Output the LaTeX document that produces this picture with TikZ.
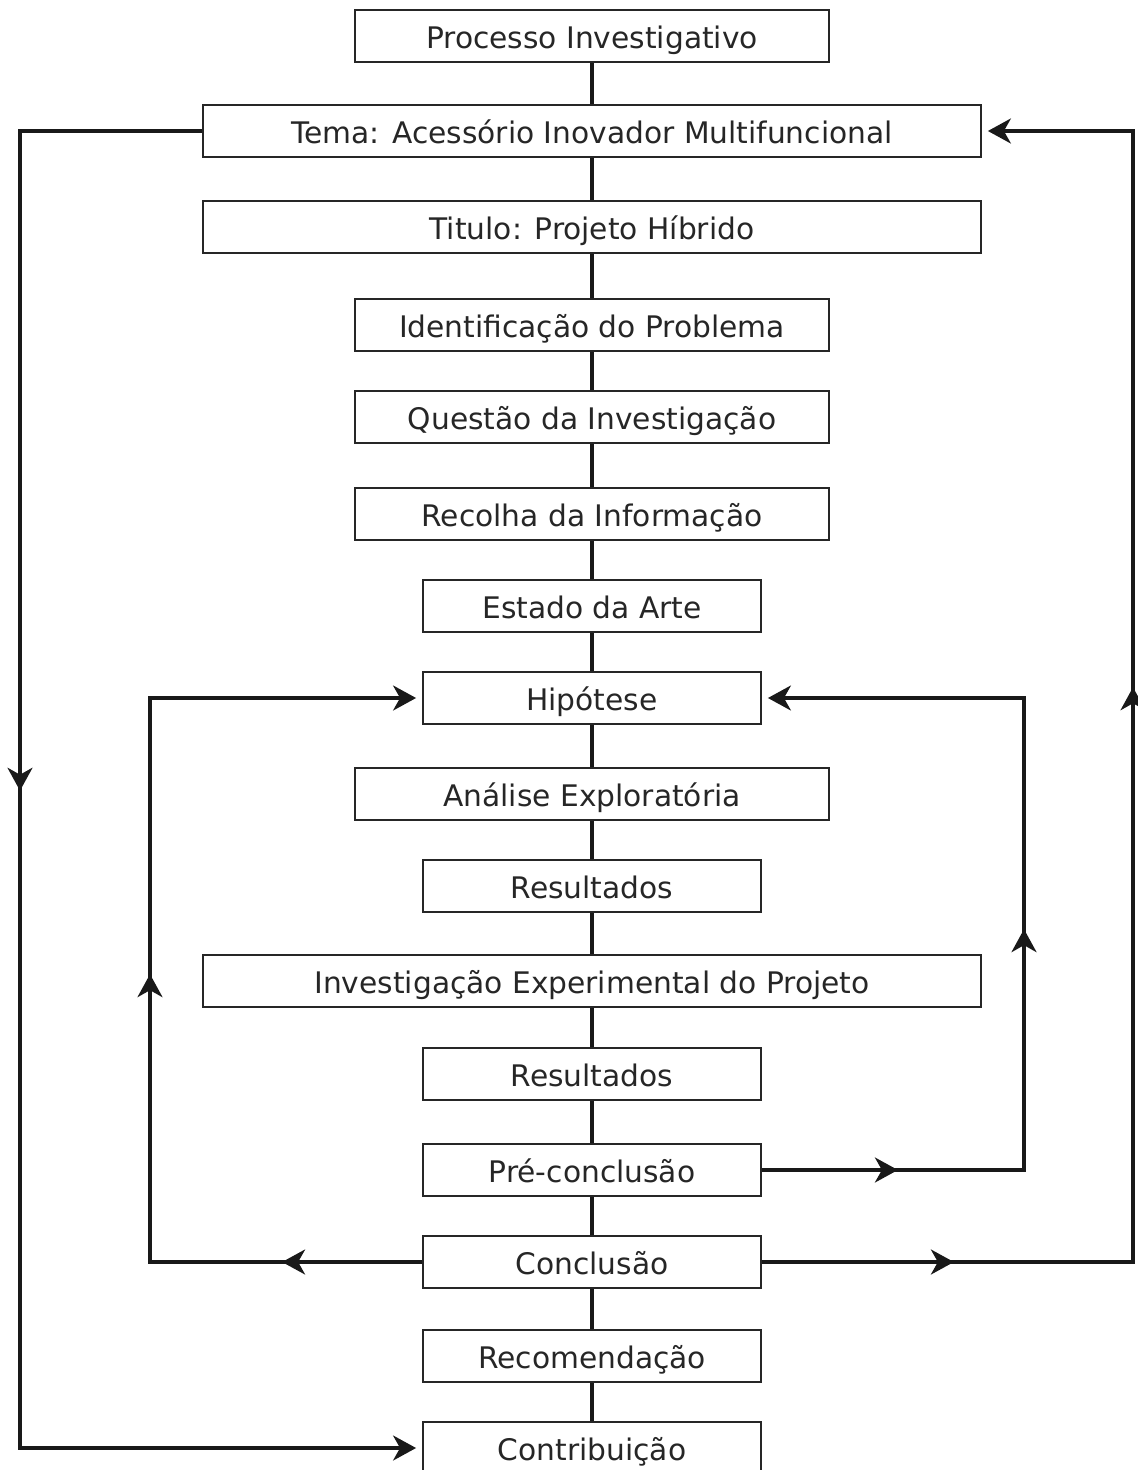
\documentclass[tikz,border=0pt]{standalone}
\usepackage{fontspec}
\setmainfont{DejaVu Sans}
\usetikzlibrary{arrows.meta, decorations.markings}

\begin{document}
\begin{tikzpicture}[x=0.02cm, y=-0.02cm,
  every node/.style={font=\fontsize{16.9}{20}\selectfont, text=black!85},
  box/.style={draw=black!85, line width=1.1pt, rectangle, minimum height=1.04cm, inner sep=0pt,
    text height=14.6pt, text depth=0pt},
  widebox/.style={box, minimum width=15.56cm},
  midbox/.style={box, minimum width=9.48cm},
  smallbox/.style={box, minimum width=6.76cm},
  link/.style={draw=black!90, line width=1.8pt},
  tip/.style={-{Stealth[length=0.46cm, width=0.5cm, inset=0.14cm]}, shorten >=0.12cm},
  midtip/.style={postaction={decorate, decoration={markings,
    mark=at position #1 with {\arrow{Stealth[length=0.46cm, width=0.5cm, inset=0.14cm]}}}}}]
\useasboundingbox (0,0) rectangle (1137,1470);

% Steps - vertical flow
\node[midbox] (proc) at (592,36) {Processo Investigativo};
\node[widebox] (tema) at (592,131) {Tema: Acessório Inovador Multifuncional};
\node[widebox] (titulo) at (592,227) {Titulo: Projeto Híbrido};
\node[midbox] (ident) at (592,325) {Identificação do Problema};
\node[midbox] (questao) at (592,417) {Questão da Investigação};
\node[midbox] (recolha) at (592,514) {Recolha da Informação};
\node[smallbox] (estado) at (592,606) {Estado da Arte};
\node[smallbox] (hip) at (592,698) {Hipótese};
\node[midbox] (analise) at (592,794) {Análise Exploratória};
\node[smallbox] (res1) at (592,886) {Resultados};
\node[widebox] (invexp) at (592,981) {Investigação Experimental do Projeto};
\node[smallbox] (res2) at (592,1074) {Resultados};
\node[smallbox] (precon) at (592,1170) {Pré-conclusão};
\node[smallbox] (concl) at (592,1262) {Conclusão};
\node[smallbox] (recom) at (592,1356) {Recomendação};
\node[smallbox] (contrib) at (592,1448) {Contribuição};

% Lines between steps
\foreach \a/\b in {proc/tema, tema/titulo, titulo/ident, ident/questao, questao/recolha,
  recolha/estado, estado/hip, hip/analise, analise/res1, res1/invexp, invexp/res2,
  res2/precon, precon/concl, concl/recom, recom/contrib}
  \draw[link] (\a) -- (\b);

% Corners of the loops
\coordinate (lbot) at (20,1448);
\coordinate (rbot) at (1133,1262);
\coordinate (pbot) at (1024,1170);
\coordinate (cbot) at (150,1262);

% Outer loop left
\draw[link, tip, midtip=16.84cm] (tema.west) -| (lbot) -- (contrib.west);

% Outer loop right
\draw[link, tip, midtip=3.84cm, midtip=18.92cm] (concl.east) -- (rbot) |- (tema.east);

% Inner loops back to the hypothesis
\draw[link, tip, midtip=2.72cm, midtip=10.06cm] (precon.east) -- (pbot) |- (hip.east);
\draw[link, tip, midtip=2.8cm, midtip=11.2cm] (concl.west) -- (cbot) |- (hip.west);
\end{tikzpicture}
\end{document}
